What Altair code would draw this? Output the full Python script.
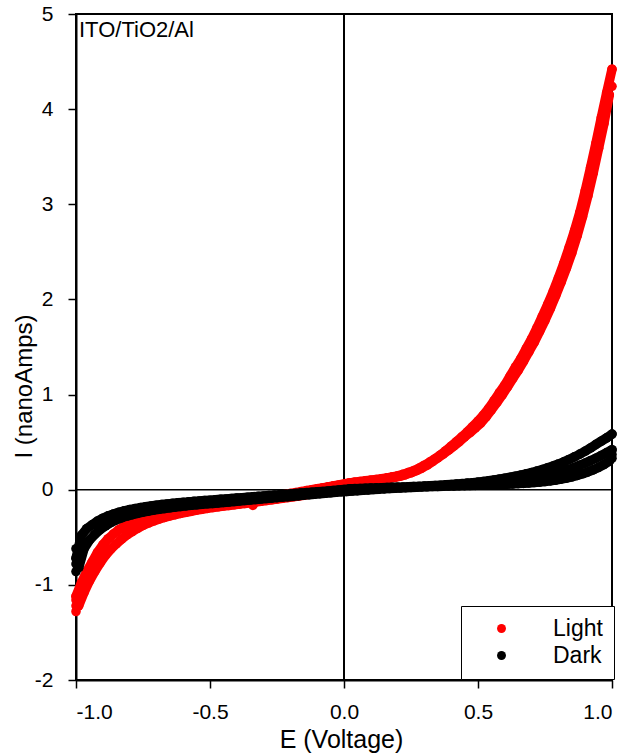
import altair as alt
import pandas as pd

# ---------------- data ----------------
V_EVEN = [
    -1.00, -0.98, -0.96, -0.94, -0.92, -0.90, -0.88, -0.86, -0.84, -0.82,
    -0.80, -0.78, -0.76, -0.74, -0.72, -0.70, -0.68, -0.66, -0.64, -0.62,
    -0.60, -0.58, -0.56, -0.54, -0.52, -0.50, -0.48, -0.46, -0.44, -0.42,
    -0.40, -0.38, -0.36, -0.34, -0.32, -0.30, -0.28, -0.26, -0.24, -0.22,
    -0.20, -0.18, -0.16, -0.14, -0.12, -0.10, -0.08, -0.06, -0.04, -0.02,
    0.00, 0.02, 0.04, 0.06, 0.08, 0.10, 0.12, 0.14, 0.16, 0.18,
    0.20, 0.22, 0.24, 0.26, 0.28, 0.30, 0.32, 0.34, 0.36, 0.38,
    0.40, 0.42, 0.44, 0.46, 0.48, 0.50, 0.52, 0.54, 0.56, 0.58,
    0.60, 0.62, 0.64, 0.66, 0.68, 0.70, 0.72, 0.74, 0.76, 0.78,
    0.80, 0.82, 0.84, 0.86, 0.88, 0.90, 0.92, 0.94, 0.96, 0.98,
    1.00,
]
V_ODD = [
    -0.99, -0.97, -0.95, -0.93, -0.91, -0.89, -0.87, -0.85, -0.83, -0.81,
    -0.79, -0.77, -0.75, -0.73, -0.71, -0.69, -0.67, -0.65, -0.63, -0.61,
    -0.59, -0.57, -0.55, -0.53, -0.51, -0.49, -0.47, -0.45, -0.43, -0.41,
    -0.39, -0.37, -0.35, -0.33, -0.31, -0.29, -0.27, -0.25, -0.23, -0.21,
    -0.19, -0.17, -0.15, -0.13, -0.11, -0.09, -0.07, -0.05, -0.03, -0.01,
    0.01, 0.03, 0.05, 0.07, 0.09, 0.11, 0.13, 0.15, 0.17, 0.19,
    0.21, 0.23, 0.25, 0.27, 0.29, 0.31, 0.33, 0.35, 0.37, 0.39,
    0.41, 0.43, 0.45, 0.47, 0.49, 0.51, 0.53, 0.55, 0.57, 0.59,
    0.61, 0.63, 0.65, 0.67, 0.69, 0.71, 0.73, 0.75, 0.77, 0.79,
    0.81, 0.83, 0.85, 0.87, 0.89, 0.91, 0.93, 0.95, 0.97, 0.99,
]

# Light, sweep A (at V_EVEN)
LIGHT_A = [
    -1.12, -0.98, -0.86, -0.76, -0.66, -0.58, -0.515, -0.465, -0.42, -0.385,
    -0.355, -0.328, -0.305, -0.285, -0.267, -0.251, -0.237, -0.224, -0.212, -0.201,
    -0.191, -0.183, -0.176, -0.169, -0.163, -0.157, -0.149, -0.142, -0.135, -0.128,
    -0.121, -0.114, -0.107, -0.10, -0.092, -0.084, -0.076, -0.068, -0.06, -0.05,
    -0.04, -0.03, -0.02, -0.01, 0.0, 0.01, 0.02, 0.03, 0.04, 0.05,
    0.06, 0.072, 0.080, 0.087, 0.094, 0.101, 0.108, 0.116, 0.125, 0.135,
    0.146, 0.161, 0.18, 0.20, 0.226, 0.257, 0.29, 0.326, 0.365, 0.41,
    0.457, 0.506, 0.556, 0.607, 0.664, 0.72, 0.783, 0.855, 0.937, 1.02,
    1.10, 1.195, 1.29, 1.38, 1.483, 1.586, 1.70, 1.823, 1.947, 2.08,
    2.225, 2.38, 2.545, 2.72, 2.915, 3.14, 3.385, 3.64, 3.91, 4.17,
    4.42,
]
# Light, sweep B (at V_ODD)
LIGHT_B = [
    -1.22, -1.08, -0.96, -0.86, -0.77, -0.69, -0.625, -0.57, -0.52, -0.475,
    -0.44, -0.405, -0.375, -0.35, -0.328, -0.308, -0.291, -0.276, -0.262, -0.249,
    -0.237, -0.226, -0.215, -0.205, -0.196, -0.187, -0.179, -0.172, -0.165, -0.158,
    -0.151, -0.144, -0.137, -0.130, -0.122, -0.114, -0.106, -0.098, -0.090, -0.082,
    -0.074, -0.066, -0.058, -0.047, -0.035, -0.024, -0.012, 0.0, 0.015, 0.035,
    0.058, 0.067, 0.075, 0.082, 0.089, 0.096, 0.103, 0.111, 0.12, 0.13,
    0.142, 0.159, 0.178, 0.20, 0.227, 0.258, 0.295, 0.335, 0.375, 0.415,
    0.46, 0.505, 0.555, 0.60, 0.65, 0.70, 0.765, 0.84, 0.915, 0.995,
    1.08, 1.17, 1.255, 1.35, 1.45, 1.55, 1.665, 1.78, 1.905, 2.04,
    2.18, 2.33, 2.49, 2.67, 2.87, 3.09, 3.33, 3.59, 3.85, 4.15,
]
# Dark, sweep A (at V_EVEN)
DARK_A = [
    -0.72, -0.48, -0.41, -0.37, -0.33, -0.30, -0.275, -0.255, -0.237, -0.222,
    -0.209, -0.198, -0.188, -0.179, -0.171, -0.163, -0.156, -0.150, -0.144, -0.138,
    -0.133, -0.128, -0.123, -0.118, -0.114, -0.110, -0.106, -0.101, -0.097, -0.092,
    -0.088, -0.084, -0.079, -0.075, -0.070, -0.066, -0.062, -0.057, -0.053, -0.048,
    -0.044, -0.040, -0.035, -0.031, -0.026, -0.022, -0.018, -0.013, -0.009, -0.004,
    0.002, 0.009, 0.011, 0.013, 0.015, 0.017, 0.019, 0.021, 0.023, 0.025,
    0.027, 0.029, 0.031, 0.033, 0.035, 0.038, 0.041, 0.044, 0.047, 0.051,
    0.055, 0.059, 0.064, 0.069, 0.074, 0.080, 0.087, 0.094, 0.102, 0.111,
    0.121, 0.131, 0.142, 0.154, 0.167, 0.181, 0.196, 0.212, 0.230, 0.249,
    0.270, 0.293, 0.318, 0.345, 0.374, 0.405, 0.439, 0.476, 0.51, 0.545,
    0.585,
]
# Dark, sweep B (at V_ODD)
DARK_B = [
    -0.82, -0.62, -0.53, -0.47, -0.42, -0.38, -0.345, -0.318, -0.295, -0.277,
    -0.262, -0.248, -0.236, -0.225, -0.215, -0.206, -0.198, -0.190, -0.183, -0.176,
    -0.170, -0.164, -0.158, -0.153, -0.148, -0.144, -0.139, -0.134, -0.129, -0.124,
    -0.118, -0.113, -0.108, -0.103, -0.098, -0.093, -0.088, -0.083, -0.078, -0.073,
    -0.068, -0.063, -0.057, -0.052, -0.047, -0.042, -0.037, -0.032, -0.027, -0.022,
    -0.018, -0.014, -0.010, -0.006, -0.002, 0.002, 0.006, 0.009, 0.012, 0.015,
    0.018, 0.021, 0.024, 0.027, 0.029, 0.031, 0.033, 0.035, 0.037, 0.039,
    0.040, 0.042, 0.043, 0.045, 0.046, 0.048, 0.050, 0.052, 0.054, 0.056,
    0.058, 0.061, 0.064, 0.067, 0.071, 0.075, 0.080, 0.086, 0.093, 0.101,
    0.111, 0.122, 0.135, 0.150, 0.167, 0.187, 0.21, 0.235, 0.265, 0.30,
]
# Dark, third sweep (upper part only)
V_MID = [
    0.50, 0.52, 0.54, 0.56, 0.58, 0.60, 0.62, 0.64, 0.66, 0.68,
    0.70, 0.72, 0.74, 0.76, 0.78, 0.80, 0.82, 0.84, 0.86, 0.88,
    0.90, 0.92, 0.94, 0.96, 0.98, 1.00,
]
DARK_C = [
    0.060, 0.064, 0.068, 0.073, 0.078, 0.084, 0.090, 0.097, 0.104, 0.112,
    0.120, 0.130, 0.140, 0.152, 0.165, 0.180, 0.195, 0.214, 0.235, 0.257,
    0.280, 0.305, 0.331, 0.360, 0.390, 0.420,
]
# isolated points at the sweep ends and one stray point
LIGHT_EXTRA_V = [-1.00, -1.00, -1.00, 1.00, -0.34]
LIGHT_EXTRA_I = [-1.16, -1.22, -1.28, 4.24, -0.165]
DARK_EXTRA_V = [-1.00, -1.00, -1.00, 1.00, 1.00]
DARK_EXTRA_I = [-0.62, -0.78, -0.86, 0.33, 0.37]

X_TICKS = [-1.0, -0.5, 0.0, 0.5, 1.0]
Y_TICKS = [-2, -1, 0, 1, 2, 3, 4, 5]
SERIES = ["Light", "Dark"]
COLORS = ["#ff0000", "#000000"]

# ---------------- tables ----------------
def table(vs, cs, series, branch):
    return pd.DataFrame({"E": vs, "I": cs, "series": series, "branch": branch})

sweeps = pd.concat([
    table(V_EVEN, LIGHT_A, "Light", "LA"),
    table(V_ODD, LIGHT_B, "Light", "LB"),
    table(V_EVEN, DARK_A, "Dark", "DA"),
    table(V_ODD, DARK_B, "Dark", "DB"),
    table(V_MID, DARK_C, "Dark", "DC"),
], ignore_index=True)
extras = pd.concat([
    table(LIGHT_EXTRA_V, LIGHT_EXTRA_I, "Light", "LX"),
    table(DARK_EXTRA_V, DARK_EXTRA_I, "Dark", "DX"),
], ignore_index=True)
points = pd.concat([sweeps, extras], ignore_index=True)

FONT = "Liberation Sans"
DOT = 92
LINE_W = 9.5

x_enc = alt.X(
    "E:Q",
    scale=alt.Scale(domain=[-1, 1], nice=False, zero=False),
    axis=alt.Axis(
        values=X_TICKS,
        labelExpr="datum.value < 0 ? '-' + format(-datum.value, '.1f') : format(datum.value, '.1f')",
        title="E (Voltage)",
        titleX=265, titleY=67, titleBaseline="alphabetic", titleAnchor="start",
        titleAlign="center", titleFontSize=25,
        labelPadding=13,
    ),
)
y_enc = alt.Y(
    "I:Q",
    scale=alt.Scale(domain=[-2, 5], nice=False, zero=False),
    axis=alt.Axis(
        values=Y_TICKS,
        labelExpr="datum.value < 0 ? '-' + format(-datum.value, 'd') : format(datum.value, 'd')",
        title="I (nanoAmps)",
        titleAngle=270, titleX=-52, titleY=372, titleBaseline="middle",
        titleAlign="center", titleAnchor="start", titleFontSize=24,
        labelPadding=15,
    ),
)
color_enc = alt.Color(
    "series:N",
    scale=alt.Scale(domain=SERIES, range=COLORS),
    sort=SERIES,
    legend=alt.Legend(
        title=None, orient="none", legendX=385, legendY=592,
        strokeColor="black", fillColor="white", padding=11,
        symbolType="circle", symbolSize=80, symbolOpacity=1, symbolStrokeWidth=0,
        symbolOffset=18, labelOffset=40, labelFontSize=23, labelFont=FONT,
        labelColor="black", rowPadding=3, cornerRadius=0,
    ),
)

light_line = alt.Chart(sweeps[sweeps.series == "Light"]).mark_line(
    strokeWidth=LINE_W, strokeCap="round", strokeJoin="round", color="#ff0000"
).encode(x=x_enc, y=y_enc, detail="branch:N", order="E:Q")

light_pts = alt.Chart(points[points.series == "Light"]).mark_circle(
    size=DOT, opacity=1
).encode(x=x_enc, y=y_enc, color=color_enc)

dark_line = alt.Chart(sweeps[sweeps.series == "Dark"]).mark_line(
    strokeWidth=LINE_W, strokeCap="round", strokeJoin="round", color="#000000"
).encode(x=x_enc, y=y_enc, detail="branch:N", order="E:Q")

dark_pts = alt.Chart(points[points.series == "Dark"]).mark_circle(
    size=DOT, opacity=1
).encode(x=x_enc, y=y_enc, color=color_enc)

zero_df = pd.DataFrame({"z": [0]})
vline = alt.Chart(zero_df).mark_rule(color="black", strokeWidth=2).encode(x=alt.datum(0))
hline = alt.Chart(zero_df).mark_rule(color="black", strokeWidth=1.5).encode(y=alt.datum(0))

label = alt.Chart(pd.DataFrame({"t": ["ITO/TiO2/Al"]})).mark_text(
    align="left", baseline="alphabetic", dx=3, dy=23, fontSize=22, font=FONT, color="black"
).encode(x=alt.datum(-1), y=alt.datum(5), text="t:N")

chart = alt.layer(
    vline, hline, light_line, light_pts, dark_line, dark_pts, label
).properties(
    width=536, height=666,
    padding={"left": 76, "top": 14, "right": 18, "bottom": 74},
    autosize=alt.AutoSizeParams(type="none"),
    background="white",
).configure(font=FONT).configure_view(
    stroke="black", strokeWidth=2
).configure_axis(
    grid=False, domainColor="black", domainWidth=2, tickColor="black",
    tickWidth=1.5, tickSize=8, labelColor="black", titleColor="black",
    labelFont=FONT, titleFont=FONT, labelFontSize=21, titleFontSize=23,
    titleFontWeight="normal",
)

chart.save("out.html", embed_options={"renderer": "svg", "actions": False})
